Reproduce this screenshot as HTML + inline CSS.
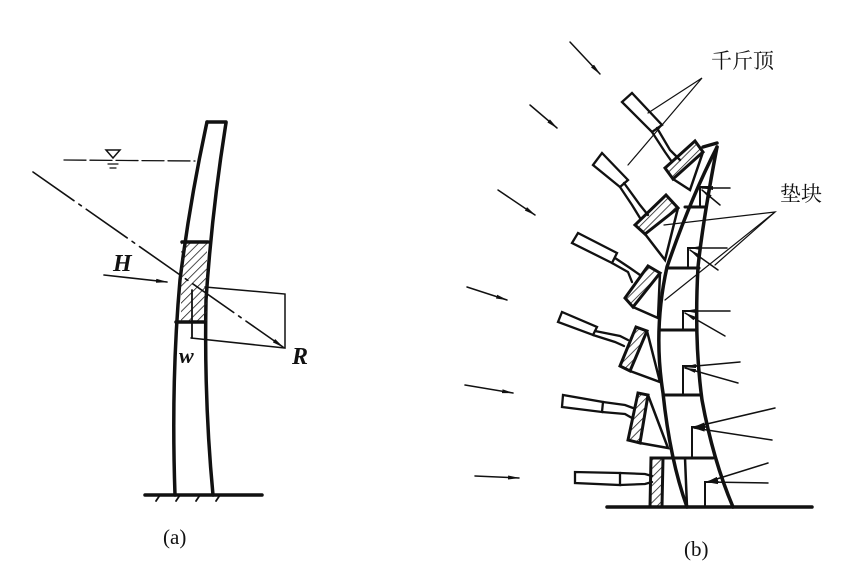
<!DOCTYPE html>
<html><head><meta charset="utf-8"><style>
html,body{margin:0;padding:0;background:#fff;}
svg{display:block}
text{font-family:"Liberation Serif","Noto Serif CJK SC",serif;fill:#111}
</style></head><body>
<svg width="867" height="575" viewBox="0 0 867 575" xmlns="http://www.w3.org/2000/svg">
<defs>
<pattern id="h" width="6" height="6" patternUnits="userSpaceOnUse" patternTransform="rotate(45)"><line x1="0" y1="0" x2="0" y2="6" stroke="#222" stroke-width="1.6"/></pattern>
<marker id="a" markerWidth="12" markerHeight="6" refX="11" refY="3" orient="auto" markerUnits="userSpaceOnUse"><path d="M0,1 L12,3 L0,5 z" fill="#111"/></marker>
</defs>
<g stroke="#111" fill="none" stroke-linecap="round">
<!-- (a) -->
<path d="M207,122 Q190,200 180,280 Q171,380 175,495" stroke-width="3.5"/>
<path d="M226,123 Q212,210 206,300 Q204,400 213,495" stroke-width="3.5"/>
<line x1="207" y1="122" x2="226" y2="122" stroke-width="3.5"/>
<rect x="181" y="242" width="26" height="80" fill="url(#h)" stroke="none"/>
<line x1="182" y1="242" x2="208" y2="242" stroke-width="3.5"/>
<line x1="176" y1="322" x2="205" y2="322" stroke-width="3.5"/>
<line x1="192" y1="290" x2="192" y2="338" stroke-width="1.8"/>
<line x1="64" y1="160" x2="195" y2="161" stroke-width="1.3" stroke-dasharray="22,4"/>
<path d="M106,150 L120,150 L113,158 z" stroke-width="1.5"/>
<line x1="108" y1="164" x2="118" y2="164" stroke-width="1.2"/>
<line x1="110" y1="168" x2="116" y2="168" stroke-width="1.2"/>
<line x1="33" y1="172" x2="283" y2="347" stroke-width="1.6" stroke-dasharray="50,6,3,6" marker-end="url(#a)"/>
<line x1="104" y1="275" x2="167" y2="282" stroke-width="1.6" marker-end="url(#a)"/>
<polyline points="205,287 285,294 285,348 191,338" stroke-width="1.5"/>
<line x1="145" y1="495" x2="262" y2="495" stroke-width="3.5"/>
<path d="M160,495 l-4,6 M180,495 l-4,6 M200,495 l-4,6 M220,495 l-4,6" stroke-width="1.8"/>

<!-- (b) column -->
<path d="M717,147 Q690,200 667,267 Q653,330 663,393 Q670,460 687,507" stroke-width="3.5"/>
<path d="M717,147 Q703,220 698,267 Q694,340 702,400 Q713,460 733,507" stroke-width="3.5"/>
<path d="M703,147 L717,143" stroke-width="3.5"/>
<line x1="607" y1="507" x2="812" y2="507" stroke-width="3.5"/>
<g stroke-width="3">
<line x1="685" y1="207" x2="706" y2="207"/>
<line x1="667" y1="268" x2="699" y2="268"/>
<line x1="659" y1="330" x2="697" y2="330"/>
<line x1="663" y1="395" x2="701" y2="395"/>
<line x1="652" y1="458" x2="713" y2="458"/>
</g>
<!-- jacks -->
<g stroke-width="2.3">
<polygon points="622,102 632,93 662,125 652,132"/>
<polyline points="657,128 670,150 680,160"/><polyline points="652,132 665,152 672,162"/>
<polygon points="593,165 602,153 628,180 620,187"/>
<polyline points="624,183 640,205 648,215"/><polyline points="620,187 632,205 640,218"/>
<polygon points="572,243 578,233 617,253 612,263"/>
<polyline points="615,258 630,268 640,275"/><polyline points="612,263 628,272 632,282"/>
<polygon points="558,322 562,312 597,327 593,335"/>
<polyline points="595,331 620,336 628,340"/><polyline points="593,335 615,342 624,346"/>
<polygon points="562,407 563,395 603,402 602,412"/>
<polyline points="603,402 625,405 633,408"/><polyline points="602,412 625,414 632,418"/>
<polygon points="575,483 575,472 620,473 620,485"/>
<polyline points="620,473 645,474 652,476"/><polyline points="620,485 645,484 652,482"/>
</g>
<!-- pads -->
<g stroke-width="3" fill="url(#h)">
<polygon points="665,168 695,141 703,152 673,179"/>
<polygon points="635,225 666,195 678,208 645,234"/>
<polygon points="625,298 648,266 660,273 633,307"/>
<polygon points="620,366 636,327 647,331 630,371"/>
<polygon points="628,440 638,393 648,395 640,443"/>
<polygon points="650,507 651,458 663,458 662,507"/>
</g>
<g stroke-width="2.5">
<polyline points="673,179 690,190 703,152"/>
<polyline points="645,234 665,260 678,208"/>
<polyline points="633,307 658,318 660,273"/>
<polyline points="630,371 660,382 647,331"/>
<polyline points="640,443 668,448 648,395"/>
<polyline points="663,458 685,458 687,507"/>
</g>
<!-- right L's and arrows -->
<g stroke-width="2">
<polyline points="700,207 700,187 710,187"/>
<polyline points="688,268 688,248 698,248"/>
<polyline points="683,330 683,311 695,311"/>
<polyline points="683,395 683,366 696,366"/>
<polyline points="692,458 692,427 705,427"/>
<polyline points="705,505 705,482 718,482"/>
</g>
<g stroke-width="1.5" marker-end="url(#a)">
<line x1="730" y1="188" x2="702" y2="188"/><line x1="720" y1="205" x2="702" y2="190"/>
<line x1="727" y1="248" x2="690" y2="248"/><line x1="718" y1="270" x2="690" y2="250"/>
<line x1="730" y1="311" x2="685" y2="311"/><line x1="725" y1="336" x2="685" y2="313"/>
<line x1="740" y1="362" x2="685" y2="367"/><line x1="738" y1="383" x2="685" y2="368"/>
<line x1="775" y1="408" x2="694" y2="427"/><line x1="772" y1="440" x2="694" y2="428"/>
<line x1="768" y1="463" x2="707" y2="482"/><line x1="768" y1="483" x2="707" y2="482"/>
<line x1="530" y1="105" x2="557" y2="128"/>
<line x1="570" y1="42" x2="600" y2="74"/>
<line x1="498" y1="190" x2="535" y2="215"/>
<line x1="467" y1="287" x2="507" y2="300"/>
<line x1="465" y1="385" x2="513" y2="393"/>
<line x1="475" y1="476" x2="519" y2="478"/>
</g>
<!-- leaders -->
<g stroke-width="1.2">
<polyline points="648,113 702,78 628,165"/>
<polyline points="664,225 775,212 665,300"/>
<line x1="775" y1="212" x2="715" y2="265"/>
</g>
</g>
<text x="113" y="271" font-size="24" font-style="italic" font-weight="bold">H</text>
<text x="179" y="363" font-size="22" font-style="italic" font-weight="bold">w</text>
<text x="292" y="364" font-size="24" font-style="italic" font-weight="bold">R</text>
<text x="163" y="544" font-size="21">(a)</text>
<text x="684" y="556" font-size="21">(b)</text>
<text x="711" y="68" font-size="21">千斤顶</text>
<text x="780" y="201" font-size="21">垫块</text>
</svg>
</body></html>
